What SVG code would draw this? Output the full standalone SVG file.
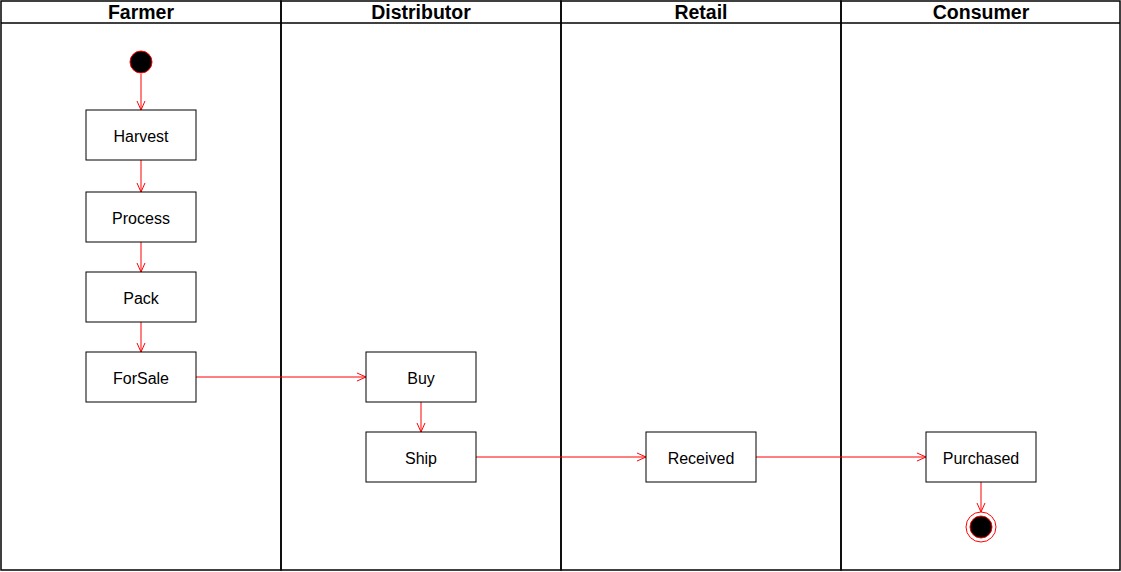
<svg xmlns="http://www.w3.org/2000/svg" width="1121" height="572" viewBox="0 0 1121 572">
<defs>
<marker id="arr" markerWidth="12" markerHeight="12" refX="10" refY="5" orient="auto" markerUnits="userSpaceOnUse" viewBox="0 0 12 10">
<path d="M1,1 L10,5 L1,9" fill="none" stroke="#ff0000" stroke-width="1"/>
</marker>
</defs>
<style>
.lane{fill:none;stroke:#000;stroke-width:1.5}
.hdr{font-family:"Liberation Sans",Arial,sans-serif;font-size:19.5px;font-weight:bold;text-anchor:middle;fill:#000}
.box{fill:#fff;stroke:#000;stroke-width:1}
.lbl{font-family:"Liberation Sans",Arial,sans-serif;font-size:16px;text-anchor:middle;fill:#000}
.c{fill:none;stroke:#ff0000;stroke-width:1;marker-end:url(#arr)}
</style>
<rect width="1121" height="572" fill="#fff"/>
<g id="lanes">
<rect class="lane" x="1" y="1" width="280" height="569"/>
<rect class="lane" x="281" y="1" width="280" height="569"/>
<rect class="lane" x="561" y="1" width="280" height="569"/>
<rect class="lane" x="841" y="1" width="279" height="569"/>
<line class="lane" x1="1" y1="23" x2="1120" y2="23" stroke-width="1"/>
<text class="hdr" x="141" y="19">Farmer</text>
<text class="hdr" x="421" y="19">Distributor</text>
<text class="hdr" x="701" y="19">Retail</text>
<text class="hdr" x="981" y="19">Consumer</text>
</g>
<g id="connectors">
<line class="c" x1="141" y1="74" x2="141" y2="110"/>
<line class="c" x1="141" y1="160" x2="141" y2="192"/>
<line class="c" x1="141" y1="242" x2="141" y2="272"/>
<line class="c" x1="141" y1="322" x2="141" y2="352"/>
<line class="c" x1="196" y1="377" x2="366" y2="377"/>
<line class="c" x1="421" y1="402" x2="421" y2="432"/>
<line class="c" x1="476" y1="457" x2="646" y2="457"/>
<line class="c" x1="756" y1="457" x2="926" y2="457"/>
<line class="c" x1="981" y1="482" x2="981" y2="512"/>
</g>
<g id="start"><circle cx="141" cy="62" r="11" fill="#000" stroke="#ff0000" stroke-width="1"/></g>
<g id="harvest"><rect class="box" x="86" y="110" width="110" height="50"/><text class="lbl" x="141" y="141.5">Harvest</text></g>
<g id="process"><rect class="box" x="86" y="192" width="110" height="50"/><text class="lbl" x="141" y="223.5">Process</text></g>
<g id="pack"><rect class="box" x="86" y="272" width="110" height="50"/><text class="lbl" x="141" y="303.5">Pack</text></g>
<g id="forsale"><rect class="box" x="86" y="352" width="110" height="50"/><text class="lbl" x="141" y="383.5">ForSale</text></g>
<g id="buy"><rect class="box" x="366" y="352" width="110" height="50"/><text class="lbl" x="421" y="383.5">Buy</text></g>
<g id="ship"><rect class="box" x="366" y="432" width="110" height="50"/><text class="lbl" x="421" y="463.5">Ship</text></g>
<g id="received"><rect class="box" x="646" y="432" width="110" height="50"/><text class="lbl" x="701" y="463.5">Received</text></g>
<g id="purchased"><rect class="box" x="926" y="432" width="110" height="50"/><text class="lbl" x="981" y="463.5">Purchased</text></g>
<g id="end"><circle cx="981" cy="527" r="15" fill="#fff" stroke="#ff0000" stroke-width="1"/><circle cx="981" cy="527" r="11" fill="#000" stroke="#ff0000" stroke-width="1"/></g>
</svg>
